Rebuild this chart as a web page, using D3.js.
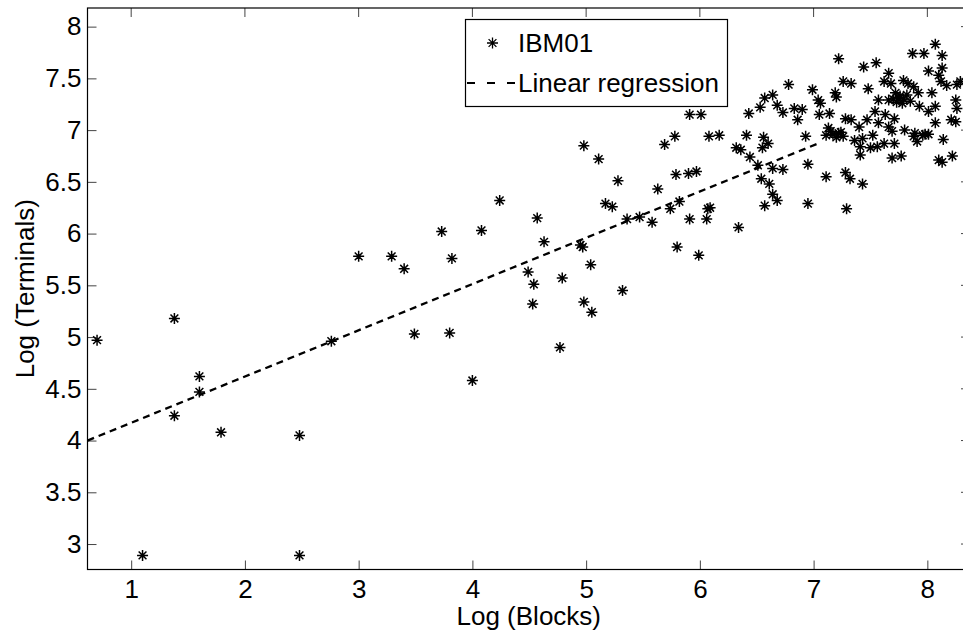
<!DOCTYPE html>
<html>
<head>
<meta charset="utf-8">
<script src="https://cdn.jsdelivr.net/npm/d3@7"></script>
<style>
  body { margin: 0; background: #fff; }
  text { font-family: "Liberation Sans", Arial, sans-serif; }
</style>
</head>
<body>
<div id="chart"></div>
<script>
// log(blocks) vs log(terminals)
var blocks = [
  0.70, 1.10, 1.38, 1.38, 1.60, 1.60, 1.79, 2.48, 2.48, 2.76,
  3.00, 3.29, 3.40, 3.49, 3.73, 3.80, 3.82, 4.00, 4.08, 4.24,
  4.49, 4.53, 4.54, 4.57, 4.63, 4.77, 4.79, 4.95, 4.97, 4.98,
  4.98, 5.04, 5.05, 5.11, 5.17, 5.23, 5.28, 5.32, 5.36, 5.47,
  5.58, 5.63, 5.69, 5.74, 5.78, 5.79, 5.80, 5.82, 5.90, 5.91,
  5.91, 5.97, 5.99, 6.01, 6.06, 6.07, 6.09, 6.08, 6.17, 6.32,
  6.34, 6.36, 6.41, 6.43, 6.44, 6.51, 6.53, 6.54, 6.55, 6.56,
  6.57, 6.57, 6.60, 6.61, 6.64, 6.64, 6.64, 6.68, 6.68, 6.73,
  6.73, 6.78, 6.83, 6.86, 6.90, 6.93, 6.95, 6.95, 6.99, 7.04,
  7.05, 7.06, 7.11, 7.11, 7.13, 7.14, 7.19, 7.20, 7.22, 7.22,
  7.26, 7.28, 7.28, 7.29, 7.32, 7.33, 7.33, 7.40, 7.41, 7.41,
  7.43, 7.43, 7.44, 7.47, 7.50, 7.52, 7.54, 7.55, 7.56, 7.57,
  7.57, 7.62, 7.62, 7.63, 7.66, 7.66, 7.66, 7.68, 7.69, 7.69,
  7.71, 7.71, 7.72, 7.75, 7.77, 7.78, 7.79, 7.80, 7.83, 7.85,
  7.87, 7.88, 7.88, 7.89, 7.91, 7.92, 7.93, 7.96, 7.97, 8.01,
  8.01, 8.01, 8.04, 8.07, 8.07, 8.07, 8.10, 8.10, 8.12, 8.13,
  8.13, 8.13, 8.14, 8.17, 8.21, 8.22, 8.25, 8.25, 8.26, 8.26,
  8.29, 7.15, 7.17, 7.20, 7.24, 7.26, 7.70, 7.73, 7.76, 7.79,
  7.82, 7.98, 7.36, 7.48
];
var terminals = [
  4.97, 2.89, 5.18, 4.24, 4.62, 4.47, 4.08, 4.05, 2.89, 4.96,
  5.78, 5.78, 5.66, 5.03, 6.02, 5.04, 5.76, 4.58, 6.03, 6.32,
  5.63, 5.32, 5.51, 6.15, 5.92, 4.90, 5.57, 5.89, 5.87, 5.34,
  6.85, 5.70, 5.24, 6.72, 6.29, 6.26, 6.51, 5.45, 6.14, 6.16,
  6.11, 6.43, 6.86, 6.24, 6.94, 6.57, 5.87, 6.31, 6.58, 7.15,
  6.14, 6.60, 5.79, 7.15, 6.14, 6.24, 6.25, 6.94, 6.95, 6.83,
  6.06, 6.81, 6.95, 7.16, 6.74, 6.66, 7.22, 6.53, 6.83, 6.93,
  7.31, 6.27, 6.87, 6.48, 7.34, 6.63, 6.38, 7.24, 6.32, 7.17,
  6.62, 7.44, 7.21, 7.10, 7.20, 6.94, 6.67, 6.29, 7.39, 7.29,
  7.15, 7.26, 6.95, 6.55, 7.02, 7.16, 7.36, 7.32, 7.69, 6.97,
  7.47, 7.11, 6.59, 6.24, 6.53, 7.45, 7.10, 7.03, 6.84, 6.76,
  6.92, 6.48, 7.61, 7.10, 6.83, 6.95, 7.18, 7.65, 6.84, 7.29,
  7.07, 7.47, 6.87, 7.15, 7.55, 7.29, 7.03, 7.45, 6.99, 6.73,
  7.11, 6.87, 7.36, 7.31, 6.75, 7.26, 7.48, 7.00, 7.45, 7.28,
  7.74, 7.42, 6.94, 6.97, 6.89, 7.36, 7.23, 6.95, 7.74, 7.57,
  7.18, 6.96, 7.36, 7.83, 7.23, 7.07, 7.53, 6.71, 7.47, 7.72,
  7.60, 6.69, 6.91, 7.43, 7.10, 6.75, 7.29, 7.08, 7.44, 7.21,
  7.47, 6.99, 6.96, 6.93, 6.98, 6.94, 7.30, 7.27, 7.33, 7.30,
  7.34, 6.96, 6.90, 7.40
];

// regression line end points
var regX = [0.616, 7.05];
var regY = [4.0, 6.876];

var xTicks = [1, 2, 3, 4, 5, 6, 7, 8];
var yTicks = [3, 3.5, 4, 4.5, 5, 5.5, 6, 6.5, 7, 7.5, 8];

var xLabel = "Log (Blocks)";
var yLabel = "Log (Terminals)";
var legendLabels = ["IBM01", "Linear regression"];

var width = 963;
var height = 633;
var margin = { top: 8, right: -7, bottom: 63.5, left: 87.5 };
var innerWidth = width - margin.left - margin.right;
var innerHeight = height - margin.top - margin.bottom;

var svg = d3.select("#chart").append("svg").attr("width", width).attr("height", height);
var g = svg.append("g").attr("transform", "translate(" + margin.left + "," + margin.top + ")");

var x = d3.scaleLinear().domain([0.616, 8.375]).range([0, innerWidth]);
var y = d3.scaleLinear().domain([2.754, 8.18]).range([innerHeight, 0]);

var fontSize = 26;
var star = "M-5.5,0H5.5M0,-5.5V5.5M-3.9,-3.9L3.9,3.9M-3.9,3.9L3.9,-3.9";

// axes, ticks pointing inward
g.append("g")
  .attr("class", "x-axis")
  .attr("transform", "translate(0," + innerHeight + ")")
  .call(d3.axisBottom(x).tickValues(xTicks).tickSize(-9).tickPadding(10).tickFormat(d3.format("d")));

g.append("g")
  .attr("class", "y-axis")
  .call(d3.axisLeft(y).tickValues(yTicks).tickSize(-9).tickPadding(6).tickFormat(function (d) { return String(d); }));

// top and right ticks only, no labels
g.append("g")
  .attr("class", "x-axis-top")
  .selectAll("line")
  .data(xTicks)
  .enter()
  .append("line")
  .attr("x1", function (d) { return x(d); })
  .attr("x2", function (d) { return x(d); })
  .attr("y1", 0)
  .attr("y2", 9);

g.append("g")
  .attr("class", "y-axis-right")
  .selectAll("line")
  .data(yTicks)
  .enter()
  .append("line")
  .attr("x1", innerWidth - 9)
  .attr("x2", innerWidth)
  .attr("y1", function (d) { return y(d); })
  .attr("y2", function (d) { return y(d); });

g.selectAll(".domain").remove();
g.selectAll(".tick line, .x-axis-top line, .y-axis-right line").attr("stroke", "#444").attr("stroke-width", 1);
g.selectAll(".tick text")
  .attr("fill", "#000")
  .style("font-size", fontSize + "px")
  .style("font-family", "'Liberation Sans', Arial, sans-serif");

g.append("rect")
  .attr("x", 0)
  .attr("y", 0)
  .attr("width", innerWidth)
  .attr("height", innerHeight)
  .attr("fill", "none")
  .attr("stroke", "#000")
  .attr("stroke-width", 1.2);

// regression line
g.append("line")
  .attr("x1", x(regX[0]))
  .attr("y1", y(regY[0]))
  .attr("x2", x(regX[1]))
  .attr("y2", y(regY[1]))
  .attr("stroke", "#000")
  .attr("stroke-width", 2.3)
  .attr("stroke-dasharray", "7,5");

// points
g.selectAll(".pt")
  .data(blocks)
  .enter()
  .append("path")
  .attr("class", "pt")
  .attr("d", star)
  .attr("transform", function (d, i) {
    return "translate(" + x(d) + "," + y(terminals[i]) + ")";
  })
  .attr("fill", "none")
  .attr("stroke", "#000")
  .attr("stroke-width", 1.5);

// axis labels
svg.append("text")
  .attr("x", margin.left + innerWidth / 2)
  .attr("y", 625)
  .attr("text-anchor", "middle")
  .style("font-size", fontSize + "px")
  .text(xLabel);

svg.append("text")
  .attr("transform", "translate(34," + (margin.top + innerHeight / 2) + ") rotate(-90)")
  .attr("text-anchor", "middle")
  .style("font-size", fontSize + "px")
  .text(yLabel);

// legend
var legend = svg.append("g").attr("class", "legend");

legend.append("rect")
  .attr("x", 465.5)
  .attr("y", 19.5)
  .attr("width", 262)
  .attr("height", 87)
  .attr("fill", "#fff")
  .attr("stroke", "#000")
  .attr("stroke-width", 1.2);

legend.append("path")
  .attr("d", star)
  .attr("transform", "translate(492.5,43)")
  .attr("fill", "none")
  .attr("stroke", "#000")
  .attr("stroke-width", 1.3);

legend.append("line")
  .attr("x1", 467)
  .attr("y1", 83)
  .attr("x2", 516)
  .attr("y2", 83)
  .attr("stroke", "#000")
  .attr("stroke-width", 2)
  .attr("stroke-dasharray", "8,12");

legend.selectAll(".legend-text")
  .data(legendLabels)
  .enter()
  .append("text")
  .attr("class", "legend-text")
  .attr("x", 518)
  .attr("y", function (d, i) { return 52 + i * 40; })
  .style("font-size", fontSize + "px")
  .text(function (d) { return d; });
</script>
</body>
</html>
